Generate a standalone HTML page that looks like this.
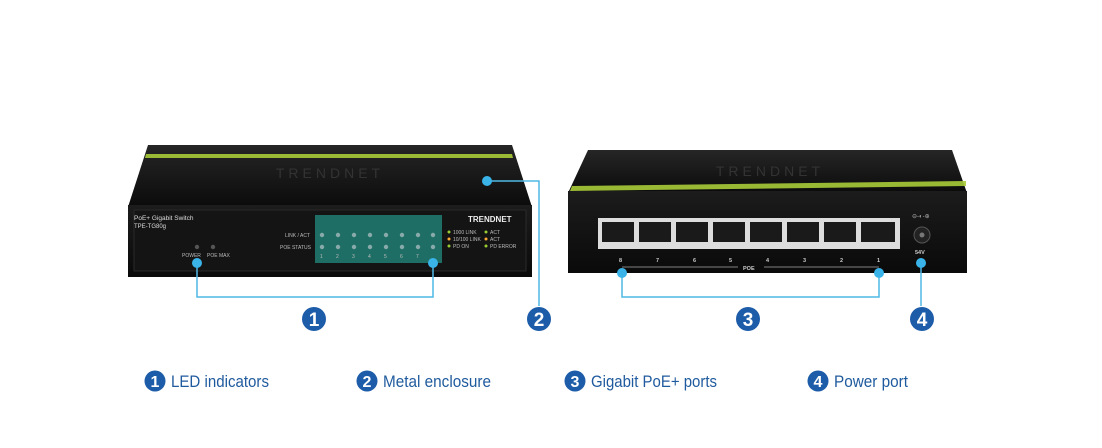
<!DOCTYPE html>
<html><head><meta charset="utf-8"><style>
html,body{margin:0;padding:0;background:#fff;}
svg{display:block}
</style></head><body>
<svg width="1102" height="448" viewBox="0 0 1102 448" xmlns="http://www.w3.org/2000/svg" font-family="Liberation Sans, sans-serif">
<defs>
<linearGradient id="top" x1="0" y1="0" x2="0" y2="1"><stop offset="0" stop-color="#262626"/><stop offset="1" stop-color="#0b0b0b"/></linearGradient>
<linearGradient id="front" x1="0" y1="0" x2="0" y2="1"><stop offset="0" stop-color="#1c1c1c"/><stop offset="1" stop-color="#0a0a0a"/></linearGradient>
</defs>
<rect width="1102" height="448" fill="#fff"/>
<!-- LEFT SWITCH -->
<polygon points="148,145 512,145 532,207 128,207" fill="url(#top)"/>
<polygon points="146,154 512,154 513,158 145,158" fill="#a8cc3a" opacity="0.9"/>
<text x="330" y="178" font-size="14" fill="#333" text-anchor="middle" letter-spacing="4">TRENDNET</text>
<rect x="128" y="205" width="404" height="72" fill="url(#front)"/>
<rect x="134" y="210" width="392" height="61" fill="#141414" stroke="#2a2a2a"/>
<rect x="315" y="215" width="127" height="48" fill="#1f6e66"/>
<g fill="#8aa" >
<circle cx="322" cy="235" r="2.2"/><circle cx="338" cy="235" r="2.2"/><circle cx="354" cy="235" r="2.2"/><circle cx="370" cy="235" r="2.2"/><circle cx="386" cy="235" r="2.2"/><circle cx="402" cy="235" r="2.2"/><circle cx="418" cy="235" r="2.2"/><circle cx="433" cy="235" r="2.2"/>
<circle cx="322" cy="247" r="2.2"/><circle cx="338" cy="247" r="2.2"/><circle cx="354" cy="247" r="2.2"/><circle cx="370" cy="247" r="2.2"/><circle cx="386" cy="247" r="2.2"/><circle cx="402" cy="247" r="2.2"/><circle cx="418" cy="247" r="2.2"/><circle cx="433" cy="247" r="2.2"/>
</g>
<g font-size="5" fill="#bbb">
<text x="285" y="237">LINK / ACT</text><text x="280" y="249">POE STATUS</text>
<text x="320" y="258">1</text><text x="336" y="258">2</text><text x="352" y="258">3</text><text x="368" y="258">4</text><text x="384" y="258">5</text><text x="400" y="258">6</text><text x="416" y="258">7</text>
<text x="182" y="257">POWER</text><text x="207" y="257">POE MAX</text>
<text x="453" y="234">1000 LINK</text><text x="453" y="241">10/100 LINK</text><text x="453" y="248">PD ON</text>
<text x="490" y="234">ACT</text><text x="490" y="241">ACT</text><text x="490" y="248">PD ERROR</text>
</g>
<circle cx="449" cy="232" r="1.5" fill="#9c3"/><circle cx="449" cy="239" r="1.5" fill="#fa3"/><circle cx="449" cy="246" r="1.5" fill="#9c3"/>
<circle cx="486" cy="232" r="1.5" fill="#9c3"/><circle cx="486" cy="239" r="1.5" fill="#fa3"/><circle cx="486" cy="246" r="1.5" fill="#9c3"/>
<circle cx="197" cy="247" r="2.2" fill="#555"/><circle cx="213" cy="247" r="2.2" fill="#555"/>
<text x="134" y="220" font-size="6.5" fill="#ddd">PoE+ Gigabit Switch</text>
<text x="134" y="228" font-size="6" fill="#ddd">TPE-TG80g</text>
<text x="468" y="222" font-size="8" fill="#eee" font-weight="bold">TRENDNET</text>
<!-- connectors 1,2 -->
<g stroke="#4fb8e6" stroke-width="1.5" fill="none">
<polyline points="197,263 197,297 433,297 433,263"/>
<polyline points="487,181 539,181 539,306"/>
</g>
<circle cx="197" cy="263" r="5" fill="#3ab4e8"/><circle cx="433" cy="263" r="5" fill="#3ab4e8"/><circle cx="487" cy="181" r="5" fill="#3ab4e8"/>
<!-- RIGHT SWITCH -->
<polygon points="588,150 952,150 967,193 568,193" fill="url(#top)"/>
<polygon points="572,186 966,181 966,186 570,191" fill="#a8cc3a" opacity="0.9"/>
<text x="770" y="176" font-size="14" fill="#333" text-anchor="middle" letter-spacing="4">TRENDNET</text>
<rect x="568" y="191" width="399" height="82" fill="url(#front)"/>
<rect x="598" y="218" width="302" height="31" fill="#ddd"/>
<g fill="#1a1a1a">
<rect x="602" y="222" width="32" height="20"/><rect x="639" y="222" width="32" height="20"/><rect x="676" y="222" width="32" height="20"/><rect x="713" y="222" width="32" height="20"/><rect x="750" y="222" width="32" height="20"/><rect x="787" y="222" width="32" height="20"/><rect x="824" y="222" width="32" height="20"/><rect x="861" y="222" width="34" height="20"/>
</g>
<g font-size="5.5" fill="#ccc" font-weight="bold">
<text x="619" y="262">8</text><text x="656" y="262">7</text><text x="693" y="262">6</text><text x="729" y="262">5</text><text x="766" y="262">4</text><text x="803" y="262">3</text><text x="840" y="262">2</text><text x="877" y="262">1</text>
<text x="743" y="270">POE</text><text x="915" y="254">54V</text>
</g>
<line x1="622" y1="267" x2="738" y2="267" stroke="#aaa" stroke-width="0.7"/><line x1="764" y1="267" x2="879" y2="267" stroke="#aaa" stroke-width="0.7"/>
<circle cx="922" cy="235" r="8" fill="#222" stroke="#555"/><circle cx="922" cy="235" r="2.5" fill="#777"/>
<text x="912" y="218" font-size="6" fill="#aaa">⊖-◐-⊕</text>
<g stroke="#4fb8e6" stroke-width="1.5" fill="none">
<polyline points="622,273 622,297 879,297 879,273"/>
<polyline points="921,263 921,306"/>
</g>
<circle cx="622" cy="273" r="5" fill="#3ab4e8"/><circle cx="879" cy="273" r="5" fill="#3ab4e8"/><circle cx="921" cy="263" r="5" fill="#3ab4e8"/>
<!-- badges -->
<g font-weight="bold" fill="#fff" text-anchor="middle">
<circle cx="314" cy="319" r="12" fill="#1d5ca8"/><text x="314" y="326" font-size="19">1</text>
<circle cx="539" cy="319" r="12" fill="#1d5ca8"/><text x="539" y="326" font-size="19">2</text>
<circle cx="748" cy="319" r="12" fill="#1d5ca8"/><text x="748" y="326" font-size="19">3</text>
<circle cx="922" cy="319" r="12" fill="#1d5ca8"/><text x="922" y="326" font-size="19">4</text>
<circle cx="155" cy="381" r="10.5" fill="#1d5ca8"/><text x="155" y="387" font-size="16">1</text>
<circle cx="367" cy="381" r="10.5" fill="#1d5ca8"/><text x="367" y="387" font-size="16">2</text>
<circle cx="575" cy="381" r="10.5" fill="#1d5ca8"/><text x="575" y="387" font-size="16">3</text>
<circle cx="818" cy="381" r="10.5" fill="#1d5ca8"/><text x="818" y="387" font-size="16">4</text>
</g>
<g font-size="17" fill="#1f5a9e">
<text x="171" y="387" textLength="98" lengthAdjust="spacingAndGlyphs">LED indicators</text>
<text x="383" y="387" textLength="108" lengthAdjust="spacingAndGlyphs">Metal enclosure</text>
<text x="591" y="387" textLength="126" lengthAdjust="spacingAndGlyphs">Gigabit PoE+ ports</text>
<text x="834" y="387" textLength="74" lengthAdjust="spacingAndGlyphs">Power port</text>
</g>
</svg>
</body></html>
